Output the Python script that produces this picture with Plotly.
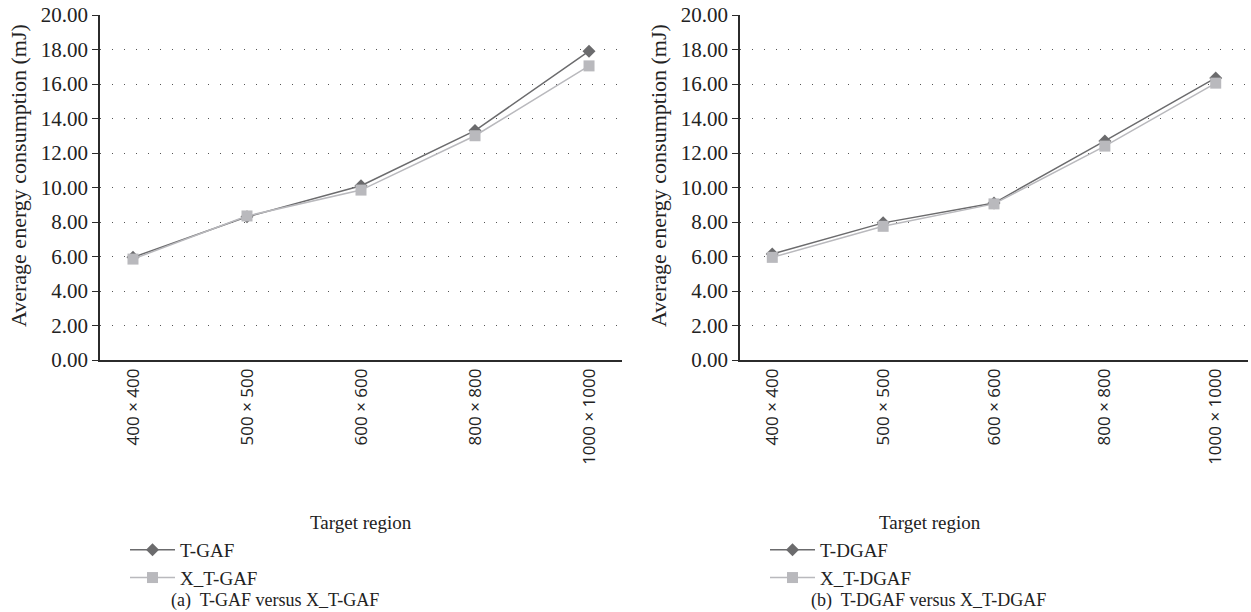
import plotly.graph_objects as go

categories = ["400 × 400", "500 × 500", "600 × 600", "800 × 800", "1000 × 1000"]
t_gaf = [5.95, 8.3, 10.1, 13.3, 17.9]
x_t_gaf = [5.85, 8.35, 9.85, 13.0, 17.05]
t_dgaf = [6.15, 7.95, 9.1, 12.7, 16.35]
x_t_dgaf = [5.95, 7.75, 9.05, 12.4, 16.05]
y_ticks = [0, 2, 4, 6, 8, 10, 12, 14, 16, 18, 20]

W, H = 1251, 612
SERIF = "Liberation Serif"
SANS = "Open Sans"
DARK = "#6b6b6d"
LIGHT = "#b9b9bd"

fig = go.Figure()

def add_pair(xa, ya, leg, name1, y1, name2, y2):
    fig.add_trace(go.Scatter(x=categories, y=y1, name=name1, xaxis=xa, yaxis=ya, legend=leg,
                             mode="lines+markers", line=dict(color=DARK, width=1.5),
                             marker=dict(symbol="diamond", size=10, color=DARK)))
    fig.add_trace(go.Scatter(x=categories, y=y2, name=name2, xaxis=xa, yaxis=ya, legend=leg,
                             mode="lines+markers", line=dict(color=LIGHT, width=1.5),
                             marker=dict(symbol="square", size=11, color=LIGHT)))

add_pair("x", "y", "legend", "T-GAF", t_gaf, "X_T-GAF", x_t_gaf)
add_pair("x2", "y2", "legend2", "T-DGAF", t_dgaf, "X_T-DGAF", x_t_dgaf)

def px_x(p):
    return p / W

def px_y(p):
    return 1 - p / H

ydom = [px_y(360), px_y(15)]
xaxis_common = dict(type="category", showgrid=False, showline=True, linecolor="#2b2b2b", linewidth=1.5,
                    ticks="", tickangle=-90, tickfont=dict(family=SANS, size=17, color="#222"),
                    zeroline=False, fixedrange=True, automargin=False)
yaxis_common = dict(range=[0, 20], tickvals=y_ticks, tickformat=".2f", showline=True,
                    linecolor="#2b2b2b", linewidth=1.5, ticks="outside", ticklen=6, tickcolor="#2b2b2b",
                    tickfont=dict(family=SERIF, size=21, color="#222"),
                    showgrid=True, gridcolor="#555555", gridwidth=1, griddash="1px,11px",
                    zeroline=False, domain=ydom, automargin=False)

fig.update_layout(
    width=W, height=H, margin=dict(l=0, r=0, t=0, b=0, autoexpand=False),
    paper_bgcolor="white", plot_bgcolor="white",
    font=dict(family=SERIF, size=18, color="#222"),
    xaxis=dict(domain=[px_x(100), px_x(622)], anchor="y", **xaxis_common),
    yaxis=dict(anchor="x", **yaxis_common),
    xaxis2=dict(domain=[px_x(740), px_x(1248)], anchor="y2", **xaxis_common),
    yaxis2=dict(anchor="x2", **yaxis_common),
    legend=dict(x=px_x(125), y=px_y(531), xanchor="left", yanchor="top",
                font=dict(family=SERIF, size=19, color="#222"), bgcolor="rgba(0,0,0,0)",
                tracegroupgap=0, itemwidth=45),
    legend2=dict(x=px_x(765), y=px_y(531), xanchor="left", yanchor="top",
                 font=dict(family=SERIF, size=19, color="#222"), bgcolor="rgba(0,0,0,0)",
                 tracegroupgap=0, itemwidth=45),
    showlegend=True,
)

annotations = [
    dict(text="Average energy consumption (mJ)", x=px_x(18), y=px_y(176), textangle=-90, font=dict(size=22)),
    dict(text="Average energy consumption (mJ)", x=px_x(658), y=px_y(176), textangle=-90, font=dict(size=22)),
    dict(text="Target region", x=px_x(361), y=px_y(522), font=dict(size=19)),
    dict(text="Target region", x=px_x(930), y=px_y(522), font=dict(size=19)),
    dict(text="(a)  T-GAF versus X_T-GAF", x=px_x(275), y=px_y(600), font=dict(size=18)),
    dict(text="(b)  T-DGAF versus X_T-DGAF", x=px_x(928), y=px_y(600), font=dict(size=18)),
]
for a in annotations:
    a["font"] = dict(family=SERIF, color="#222", **a["font"])
    fig.add_annotation(xref="paper", yref="paper", showarrow=False, xanchor="center", yanchor="middle", **a)

fig.write_html("out.html", config={"displayModeBar": False},
               post_script="document.body.style.margin='0px';document.body.style.overflow='hidden';")
